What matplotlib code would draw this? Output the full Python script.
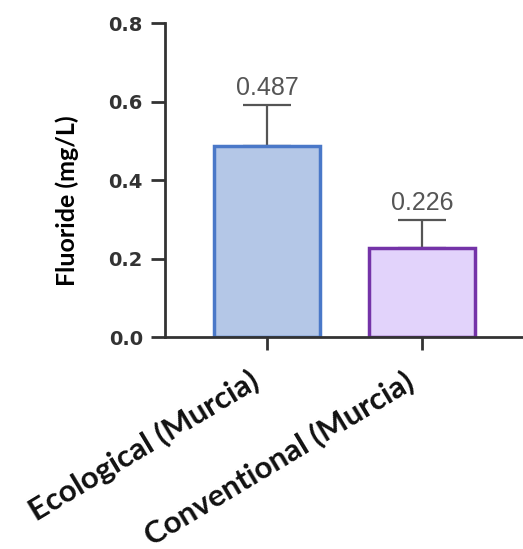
import matplotlib
matplotlib.use("Agg")

import numpy as np
import matplotlib.pyplot as plt
from matplotlib.transforms import ScaledTranslation

# Data
categories = ["Ecological (Murcia)", "Conventional (Murcia)"]
means = [0.487, 0.226]
errors = [0.104, 0.072]
fills = ["#b4c7e7", "#e2d3fb"]
edges = ["#4a78c8", "#7433a8"]

label_font = ["Lato", "DejaVu Sans"]

fig = plt.figure(figsize=(5.23, 5.49), dpi=100)
ax = fig.add_axes([0.3155, 0.386, 0.6845, 0.572])

x = np.arange(len(categories))
ax.bar(x, means, width=0.68, color=fills, edgecolor=edges, linewidth=2.5, zorder=2)
ax.errorbar(x, means, yerr=[np.zeros(len(errors)), errors], fmt="none",
            ecolor="#555555", elinewidth=1.6, capsize=17.5, capthick=1.6, zorder=1)

# value labels above error bars
for xi, m, e in zip(x, means, errors):
    ax.text(xi, m + e + 0.012, f"{m:.3f}", ha="center", va="bottom",
            fontsize=18, color="#555555", family="Liberation Sans")

ax.set_xlim(-0.658, 1.652)
ax.set_ylim(0, 0.8)
ax.set_yticks([0, 0.2, 0.4, 0.6, 0.8])
ax.set_yticklabels(["0.0", "0.2", "0.4", "0.6", "0.8"], fontsize=14,
                   fontweight="heavy", family="DejaVu Sans", color="#333333")
ax.set_xticks(x)
ax.set_xticklabels([])

# category labels, placed by hand so they sit left of the ticks
shift = ScaledTranslation(-13 / 72, -21 / 72, fig.dpi_scale_trans)
for xi, cat in zip(x, categories):
    ax.text(xi, 0, cat, transform=ax.get_xaxis_transform() + shift,
            rotation=31, ha="right", va="top", rotation_mode="anchor",
            fontsize=22.5, fontweight="bold", family=label_font, color="#111111")

for s in ["top", "right"]:
    ax.spines[s].set_visible(False)
ax.spines["left"].set_linewidth(2)
ax.spines["bottom"].set_linewidth(2)
ax.spines["left"].set_color("#333333")
ax.spines["bottom"].set_color("#333333")
ax.tick_params(axis="y", length=10, width=2, color="#333333", pad=6)
ax.tick_params(axis="x", length=9, width=2, color="#333333")

ax.set_ylabel("Fluoride (mg/L)", fontsize=18, fontweight="bold", family=label_font)
ax.yaxis.set_label_coords(-0.24, 0.433)

fig.savefig("out.png", dpi=100)
